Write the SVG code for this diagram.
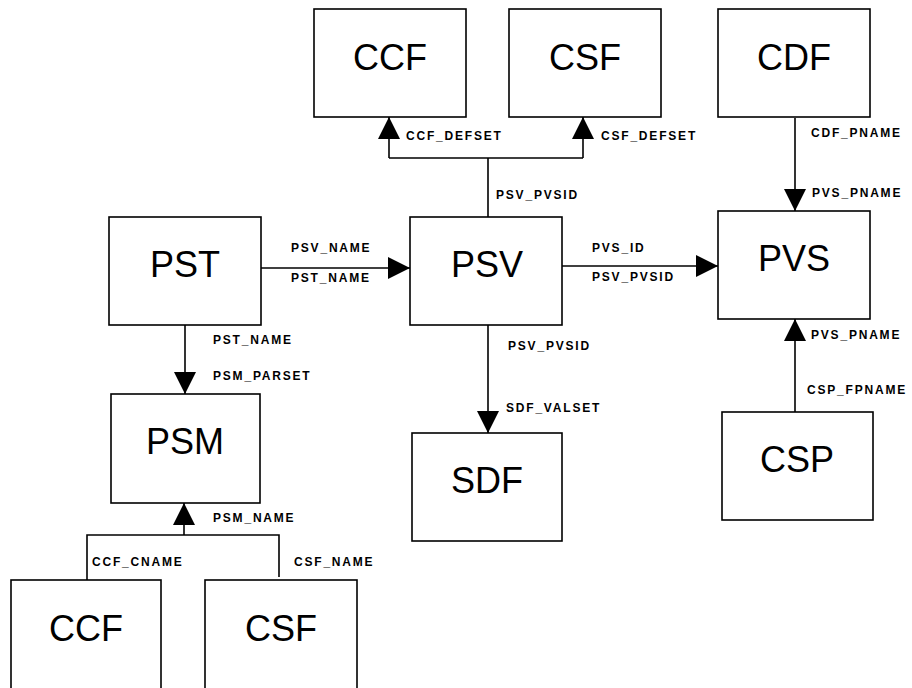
<svg xmlns="http://www.w3.org/2000/svg" width="912" height="688" viewBox="0 0 912 688">
<style>
.box{fill:#fff;stroke:#000;stroke-width:1.6}
.nt{font-family:"Liberation Sans",Arial,sans-serif;font-size:36px;text-anchor:middle;fill:#000}
.lb{font-family:"Liberation Sans",Arial,sans-serif;font-size:12px;font-weight:bold;letter-spacing:1.8px;fill:#000}
.cn{fill:none;stroke:#000;stroke-width:1.6}
</style>
<defs>
<marker id="ah" markerUnits="userSpaceOnUse" markerWidth="22" markerHeight="22" refX="22" refY="11" orient="auto" viewBox="0 0 22 22">
<path d="M0,0 L22,11 L0,22 z" fill="#000"/>
</marker>
</defs>
<rect width="912" height="688" fill="#fff"/>
<g id="connectors">
<path class="cn" d="M488 217 V158 M389 158 H583"/>
<path class="cn" d="M389 158 V117" marker-end="url(#ah)"/>
<path class="cn" d="M583 158 V117" marker-end="url(#ah)"/>
<path class="cn" d="M795 118 V211" marker-end="url(#ah)"/>
<path class="cn" d="M261 268 H410" marker-end="url(#ah)"/>
<path class="cn" d="M562 266 H718" marker-end="url(#ah)"/>
<path class="cn" d="M185 325 V394" marker-end="url(#ah)"/>
<path class="cn" d="M488 325 V433" marker-end="url(#ah)"/>
<path class="cn" d="M795 412 V319" marker-end="url(#ah)"/>
<path class="cn" d="M87 580 V535 H279 V577"/>
<path class="cn" d="M184 535 V503" marker-end="url(#ah)"/>
<text class="lb" x="406" y="140">CCF_DEFSET</text>
<text class="lb" x="601" y="140">CSF_DEFSET</text>
<text class="lb" x="496" y="199">PSV_PVSID</text>
<text class="lb" x="811" y="137">CDF_PNAME</text>
<text class="lb" x="812" y="197">PVS_PNAME</text>
<text class="lb" x="291" y="252">PSV_NAME</text>
<text class="lb" x="291" y="282">PST_NAME</text>
<text class="lb" x="592" y="252">PVS_ID</text>
<text class="lb" x="592" y="281">PSV_PVSID</text>
<text class="lb" x="213" y="344">PST_NAME</text>
<text class="lb" x="213" y="380">PSM_PARSET</text>
<text class="lb" x="508" y="350">PSV_PVSID</text>
<text class="lb" x="506" y="412">SDF_VALSET</text>
<text class="lb" x="811" y="339">PVS_PNAME</text>
<text class="lb" x="807" y="394">CSP_FPNAME</text>
<text class="lb" x="213" y="522">PSM_NAME</text>
<text class="lb" x="92" y="566">CCF_CNAME</text>
<text class="lb" x="294" y="566">CSF_NAME</text>
</g>
<g id="ccf_top"><rect class="box" x="314" y="9" width="152" height="108"/><text class="nt" x="390" y="70">CCF</text></g>
<g id="csf_top"><rect class="box" x="509" y="9" width="152" height="108"/><text class="nt" x="585" y="70">CSF</text></g>
<g id="cdf"><rect class="box" x="718" y="9" width="152" height="108"/><text class="nt" x="794" y="70">CDF</text></g>
<g id="pst"><rect class="box" x="109" y="217" width="152" height="108"/><text class="nt" x="185" y="277">PST</text></g>
<g id="psv"><rect class="box" x="410" y="217" width="152" height="108"/><text class="nt" x="487" y="277">PSV</text></g>
<g id="pvs"><rect class="box" x="718" y="211" width="152" height="108"/><text class="nt" x="794" y="271">PVS</text></g>
<g id="psm"><rect class="box" x="111" y="394" width="149" height="109"/><text class="nt" x="185" y="454">PSM</text></g>
<g id="sdf"><rect class="box" x="412" y="433" width="150" height="108"/><text class="nt" x="487" y="493">SDF</text></g>
<g id="csp"><rect class="box" x="722" y="412" width="151" height="108"/><text class="nt" x="797" y="472">CSP</text></g>
<g id="ccf_bottom"><rect class="box" x="11" y="580" width="150" height="112"/><text class="nt" x="86" y="641">CCF</text></g>
<g id="csf_bottom"><rect class="box" x="205" y="580" width="152" height="112"/><text class="nt" x="281" y="641">CSF</text></g>
</svg>
